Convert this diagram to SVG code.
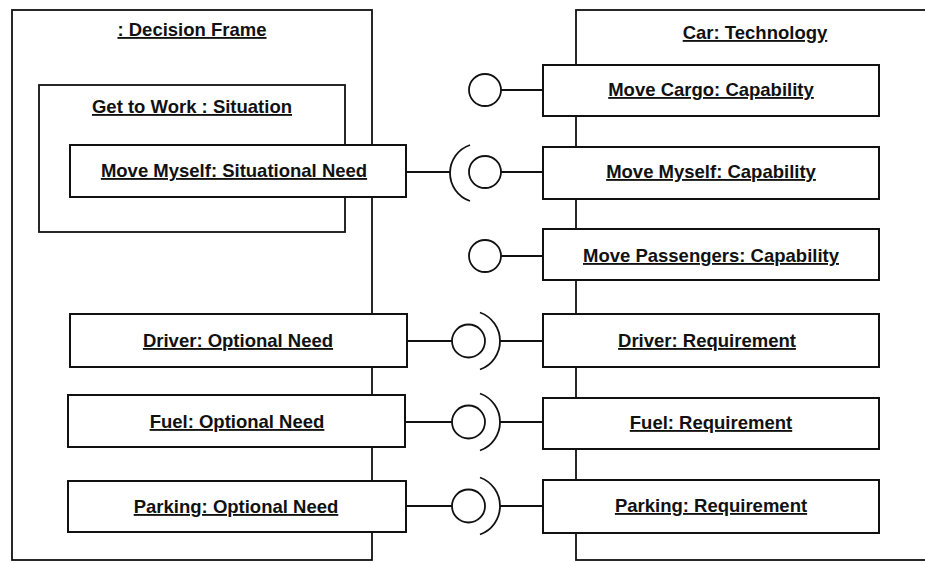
<svg xmlns="http://www.w3.org/2000/svg" width="925" height="563" viewBox="0 0 925 563">
  <style>
    .frame { fill: #fff; stroke: #111; stroke-width: 1.8; }
    .box { fill: #fff; stroke: #111; stroke-width: 2; }
    .lbl { font-family: "Liberation Sans", Arial, sans-serif; font-weight: bold; font-size: 18.5px; fill: #111; text-anchor: middle; text-decoration: underline; }
    .wire { fill: none; stroke: #111; stroke-width: 1.8; }
    .ball { fill: #fff; stroke: #111; stroke-width: 1.8; }
  </style>
  <rect width="925" height="563" fill="#fff"/>

  <!-- Containers -->
  <g id="decision-frame">
    <rect class="frame" x="12" y="10" width="360" height="550"/>
    <text class="lbl" x="192" y="36">: Decision Frame</text>
  </g>
  <g id="car-technology">
    <rect class="frame" x="576" y="10" width="360" height="550"/>
    <text class="lbl" x="755" y="39">Car: Technology</text>
  </g>
  <g id="get-to-work">
    <rect class="frame" x="39" y="85" width="306" height="147"/>
    <text class="lbl" x="192" y="113">Get to Work : Situation</text>
  </g>

  <!-- Connectors: lines, provided balls and required sockets -->
  <g id="connectors">
    <!-- Move Cargo -->
    <line class="wire" x1="501" y1="90" x2="543" y2="90"/>
    <circle class="ball" cx="485" cy="90" r="16"/>
    <!-- Move Myself -->
    <line class="wire" x1="406" y1="172" x2="450" y2="172"/>
    <path class="wire" d="M 470 145 A 29.6 29.6 0 0 0 470 201"/>
    <line class="wire" x1="501" y1="172" x2="543" y2="172"/>
    <circle class="ball" cx="485" cy="172" r="16"/>
    <!-- Move Passengers -->
    <line class="wire" x1="501" y1="256" x2="543" y2="256"/>
    <circle class="ball" cx="485" cy="256" r="16"/>
    <!-- Driver -->
    <line class="wire" x1="407" y1="341" x2="452" y2="341"/>
    <circle class="ball" cx="468.5" cy="341" r="16.5"/>
    <path class="wire" d="M 480 312.5 A 30.3 30.3 0 0 1 480 369.5"/>
    <line class="wire" x1="500" y1="341" x2="543" y2="341"/>
    <!-- Fuel -->
    <line class="wire" x1="405" y1="422" x2="452" y2="422"/>
    <circle class="ball" cx="468.5" cy="422" r="16.5"/>
    <path class="wire" d="M 480 393.5 A 30.3 30.3 0 0 1 480 450.5"/>
    <line class="wire" x1="500" y1="422" x2="543" y2="422"/>
    <!-- Parking -->
    <line class="wire" x1="406" y1="506" x2="452" y2="506"/>
    <circle class="ball" cx="468.5" cy="506" r="16.5"/>
    <path class="wire" d="M 480 477.5 A 30.3 30.3 0 0 1 480 534.5"/>
    <line class="wire" x1="500" y1="506" x2="543" y2="506"/>
  </g>

  <!-- Needs -->
  <g id="move-myself-need">
    <rect class="box" x="70" y="145" width="336" height="52"/>
    <text class="lbl" x="234" y="177">Move Myself: Situational Need</text>
  </g>
  <g id="driver-need">
    <rect class="box" x="70" y="314" width="337" height="53"/>
    <text class="lbl" x="238" y="347">Driver: Optional Need</text>
  </g>
  <g id="fuel-need">
    <rect class="box" x="68" y="395" width="337" height="52"/>
    <text class="lbl" x="237" y="428">Fuel: Optional Need</text>
  </g>
  <g id="parking-need">
    <rect class="box" x="68" y="481" width="338" height="51"/>
    <text class="lbl" x="236" y="513">Parking: Optional Need</text>
  </g>

  <!-- Capabilities -->
  <g id="move-cargo-capability">
    <rect class="box" x="543" y="65" width="336" height="51"/>
    <text class="lbl" x="711" y="96">Move Cargo: Capability</text>
  </g>
  <g id="move-myself-capability">
    <rect class="box" x="543" y="147" width="336" height="52"/>
    <text class="lbl" x="711" y="178">Move Myself: Capability</text>
  </g>
  <g id="move-passengers-capability">
    <rect class="box" x="543" y="229" width="336" height="51"/>
    <text class="lbl" x="711" y="262">Move Passengers: Capability</text>
  </g>

  <!-- Requirements -->
  <g id="driver-requirement">
    <rect class="box" x="543" y="314" width="336" height="53"/>
    <text class="lbl" x="707" y="347">Driver: Requirement</text>
  </g>
  <g id="fuel-requirement">
    <rect class="box" x="543" y="398" width="336" height="51"/>
    <text class="lbl" x="711" y="429">Fuel: Requirement</text>
  </g>
  <g id="parking-requirement">
    <rect class="box" x="543" y="480" width="336" height="53"/>
    <text class="lbl" x="711" y="512">Parking: Requirement</text>
  </g>
</svg>
